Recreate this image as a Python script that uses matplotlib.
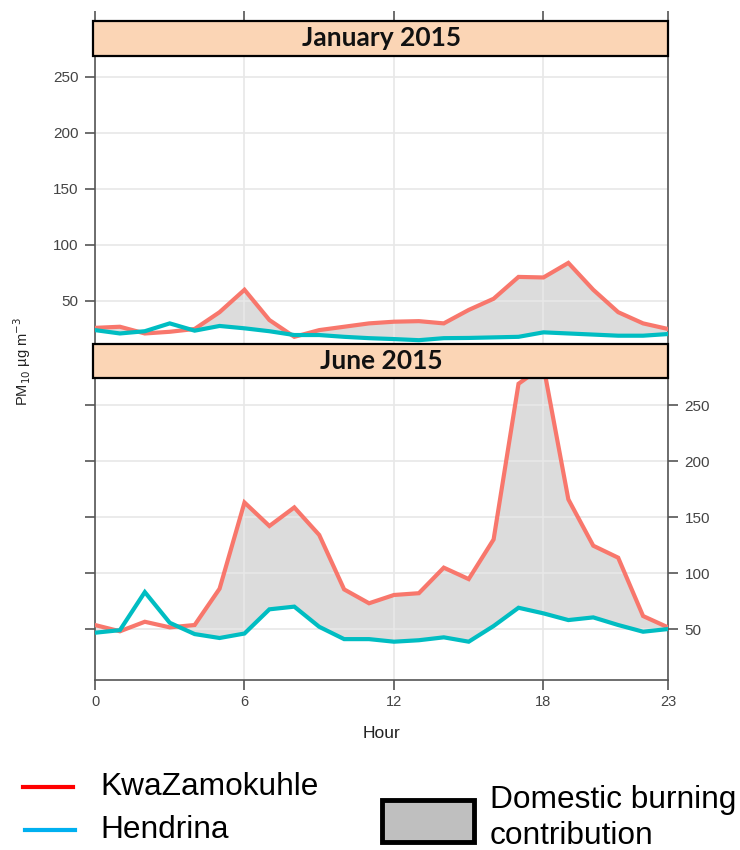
import matplotlib
matplotlib.use("Agg")
import matplotlib.pyplot as plt
import numpy as np
from matplotlib.patches import Rectangle
from matplotlib.lines import Line2D

plt.rcParams['font.family'] = ['Liberation Sans', 'DejaVu Sans']

# hourly mean PM10 (ug/m3)
hours = np.arange(24)
jan_kwaz = [26, 27, 21, 22.5, 25, 40, 60, 33, 18, 24, 27, 30,
            31.5, 32, 30, 42, 52, 71.5, 71, 84, 60, 40, 30, 25]
jan_hend = [24, 21, 23, 30, 23.5, 27.7, 25.6, 23, 19.6, 19.6, 18, 16.8,
            16, 15, 16.8, 17, 17.5, 18, 22, 21, 20, 19, 19, 20.5]
jun_kwaz = [53.6, 48, 56.5, 51.5, 53.6, 86, 163, 142, 158.6, 134, 85.4, 73,
            80.4, 82, 104.8, 94.6, 130, 269, 285, 165.8, 124.4, 113.7, 61.6, 51.5]
jun_hend = [46.7, 49, 83, 55.6, 45.5, 42, 46, 67.6, 70, 52, 41, 41,
            38.7, 40, 42.6, 38.7, 52.7, 69, 64, 58, 60.4, 53.6, 47.6, 50]

panels = ["January 2015", "June 2015"]
xticks = [0, 6, 12, 18, 23]
yticks = [50, 100, 150, 200, 250]

RED = '#F8776C'
TEAL = '#00BDC2'
FILL = '#DCDCDC'
STRIP = '#FBD5B5'
AXC = '#555555'

W, H = 740, 850
fig = plt.figure(figsize=(W / 100, H / 100), dpi=100)


def px_axes(x0, y0, x1, y1):
    # pixel box (top-left origin) -> figure fraction axes
    return fig.add_axes([x0 / W, 1 - y1 / H, (x1 - x0) / W, (y1 - y0) / H])


ax1 = px_axes(95, 21, 668, 345)
ax2 = px_axes(95, 344, 668, 680)
ax1.set_ylim(10.7, 300)
ax2.set_ylim(4.5, 304.5)

for ax, kw, hd, title, strip_lo in [(ax1, jan_kwaz, jan_hend, panels[0], 0.892),
                                    (ax2, jun_kwaz, jun_hend, panels[1], 0.899)]:
    ax.set_xlim(0, 23)
    ax.set_xticks(xticks)
    ax.set_yticks(yticks)
    ax.grid(True, color='#E8E8E8', lw=1.2, zorder=0)
    ax.fill_between(hours, hd, kw, where=np.array(kw) >= np.array(hd),
                    interpolate=True, color=FILL, lw=0, zorder=1)
    ax.plot(hours, kw, color=RED, lw=3, zorder=3, solid_joinstyle='miter')
    ax.plot(hours, hd, color=TEAL, lw=3, zorder=3, solid_joinstyle='miter')
    for s in ax.spines.values():
        s.set_color(AXC)
        s.set_linewidth(1.2)
    ax.spines['top'].set_visible(False)
    ax.add_patch(Rectangle((-0.003, strip_lo), 1.003, 1 - strip_lo, transform=ax.transAxes,
                           facecolor=STRIP, edgecolor='black', lw=1.6,
                           clip_on=False, zorder=10))
    ax.text(0.5, (1 + strip_lo) / 2, title, transform=ax.transAxes, ha='center',
            va='center', fontsize=19, fontweight='bold', family=['Lato', 'DejaVu Sans'],
            color='#111111', zorder=11)
    ax.tick_params(direction='out', length=7, width=1.2, color=AXC,
                   labelsize=11, labelcolor='#444444', pad=5)

# top panel: labels on left, ticks on top
ax1.tick_params(axis='x', bottom=False, labelbottom=False, top=True, labeltop=False)
ax1.spines['bottom'].set_visible(False)
ax1.tick_params(axis='y', left=True, labelleft=True, right=False)

# bottom panel: labels on right, plain ticks on left
ax2.tick_params(axis='y', left=True, labelleft=False, right=True, labelright=True)
ax2.tick_params(axis='x', bottom=True, labelbottom=True, labelsize=10.5, pad=4)
ax2.set_xlabel("Hour", fontsize=12.5, color='#222222', labelpad=12)

fig.text(22 / W, 1 - 362 / H, r"PM$_{10}$ µg m$^{-3}$", rotation=90, ha='center',
         va='center', fontsize=10.5, color='#222222')

# legend
fig.add_artist(Line2D([23 / W, 73 / W], [1 - 787 / H] * 2, color='#FF0000', lw=3))
fig.add_artist(Line2D([25 / W, 75 / W], [1 - 830 / H] * 2, color='#00B0F0', lw=3))
fig.text(100 / W, 1 - 787 / H, "KwaZamokuhle", fontsize=22.8, va='center', ha='left')
fig.text(100 / W, 1 - 830 / H, "Hendrina", fontsize=22.8, va='center', ha='left')
fig.add_artist(Rectangle((382 / W, 1 - 842 / H), 92 / W, 42 / H, facecolor='#BFBFBF',
                         edgecolor='black', lw=3.5, transform=fig.transFigure))
fig.text(490 / W, 1 - 800 / H, "Domestic burning", fontsize=22.8, va='center', ha='left')
fig.text(490 / W, 1 - 836 / H, "contribution", fontsize=22.8, va='center', ha='left')

fig.savefig("out.png", dpi=100)
